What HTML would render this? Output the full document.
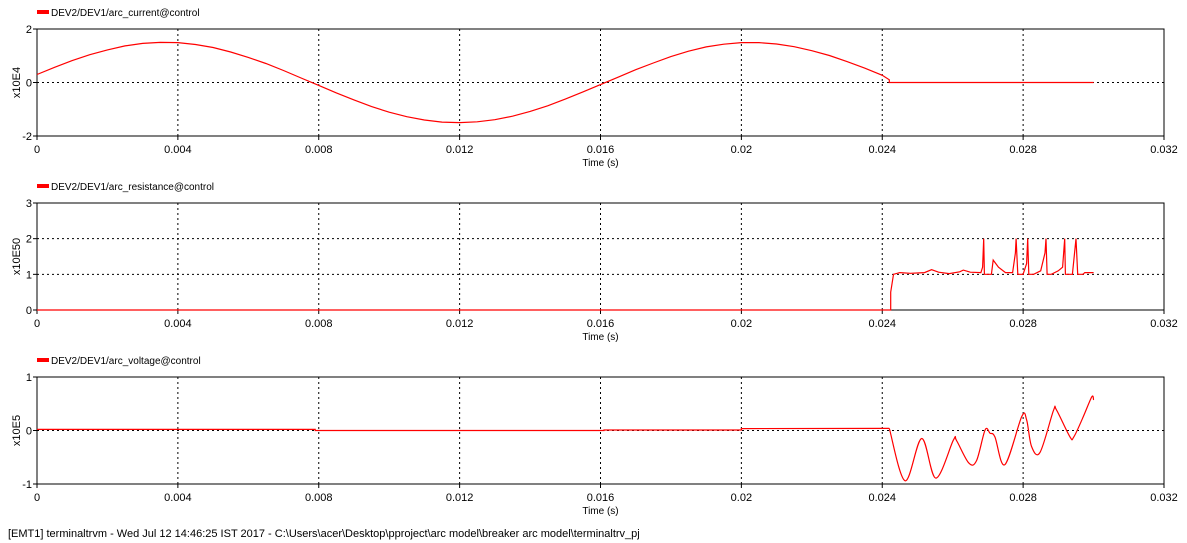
<!DOCTYPE html>
<html><head><meta charset="utf-8"><style>
html,body{margin:0;padding:0;background:#fff}
svg{display:block;font-family:"Liberation Sans",sans-serif;font-size:11px}
</style></head><body>
<svg id="s" width="1187" height="543" viewBox="0 0 1187 543" xmlns="http://www.w3.org/2000/svg">
<text x="8" y="537">[EMT1] terminaltrvm - Wed Jul 12 14:46:25 IST 2017 - C:\Users\acer\Desktop\pproject\arc model\breaker arc model\terminaltrv_pj</text>
</svg>
<script>
const xTicks=[0,0.004,0.008,0.012,0.016,0.02,0.024,0.028,0.032];
const xTickLabels=["0","0.004","0.008","0.012","0.016","0.02","0.024","0.028","0.032"];
const curT=[0,0.0005,0.001,0.0015,0.002,0.0025,0.003,0.0035,0.004,0.0045,0.005,0.0055,0.006,0.0065,0.007,0.0075,0.008,0.0085,0.009,0.0095,0.010,0.0105,0.011,0.0115,0.012,0.0125,0.013,0.0135,0.014,0.0145,0.015,0.0155,0.016,0.0165,0.017,0.0175,0.018,0.0185,0.019,0.0195,0.020,0.0205,0.021,0.0215,0.022,0.0225,0.023,0.0235,0.024,0.0242,0.0242,0.030];
const curV=[0.30,0.57,0.82,1.04,1.22,1.37,1.46,1.50,1.49,1.42,1.31,1.14,0.94,0.71,0.45,0.17,-0.11,-0.39,-0.65,-0.90,-1.11,-1.28,-1.40,-1.48,-1.50,-1.47,-1.39,-1.26,-1.08,-0.87,-0.62,-0.35,-0.08,0.20,0.48,0.73,0.97,1.17,1.33,1.43,1.49,1.49,1.44,1.34,1.19,1.01,0.78,0.54,0.27,0.10,0,0];
const resT=[0,0.02424,0.02424,0.02432,0.0245,0.0248,0.0252,0.0254,0.0256,0.0259,0.0262,0.0263,0.0265,0.0268,0.02685,0.02688,0.0269,0.0271,0.02715,0.0273,0.0275,0.0277,0.02778,0.0278,0.02785,0.0280,0.0281,0.02813,0.02816,0.0283,0.0285,0.02862,0.02865,0.02868,0.0288,0.0290,0.02912,0.02918,0.0292,0.0294,0.02945,0.0295,0.02955,0.0297,0.02975,0.0300];
const resV=[0,0,0.5,1.0,1.05,1.03,1.05,1.13,1.06,1.02,1.07,1.12,1.06,1.05,1.2,2,1.0,1.0,1.4,1.2,1.05,1.05,1.6,2,1.0,1.0,1.3,2,1.0,1.0,1.1,1.6,2,1.0,1.0,1.1,1.2,2,1.0,1.0,1.5,2,1.0,1.0,1.05,1.05];
const volT=[0,0.0079,0.0079,0.0161,0.0161,0.0200,0.0200,0.02420,0.02465,0.02512,0.02552,0.02602,0.02611,0.02646,0.02668,0.02692,0.02706,0.0272,0.02748,0.02796,0.0281,0.02824,0.02848,0.02886,0.02895,0.02933,0.02944,0.02971,0.02995,0.0300];
const volV=[0.02,0.02,0.0,0.0,0.01,0.01,0.035,0.04,-0.94,-0.15,-0.89,-0.18,-0.19,-0.61,-0.56,0.01,-0.05,-0.12,-0.64,0.26,0.20,-0.30,-0.41,0.37,0.38,-0.12,-0.12,0.26,0.63,0.57];

const NS="http://www.w3.org/2000/svg";
const svg=document.getElementById('s');
function mk(tag,attrs,parent){const e=document.createElementNS(NS,tag);for(const k in attrs)e.setAttribute(k,attrs[k]);(parent||svg).appendChild(e);return e;}
const X0=37,X1=1164;
const xs=t=>X0+(t/0.032)*(X1-X0);

function smoothPath(P){
 let d='M'+P[0][0].toFixed(1)+','+P[0][1].toFixed(1);
 for(let i=0;i<P.length-1;i++){
  const p0=P[i-1]||P[i],p1=P[i],p2=P[i+1],p3=P[i+2]||P[i+1];
  const c1=[p1[0]+(p2[0]-p0[0])/6,p1[1]+(p2[1]-p0[1])/6];
  const c2=[p2[0]-(p3[0]-p1[0])/6,p2[1]-(p3[1]-p1[1])/6];
  d+=` C${c1[0].toFixed(1)},${c1[1].toFixed(1)} ${c2[0].toFixed(1)},${c2[1].toFixed(1)} ${p2[0].toFixed(1)},${p2[1].toFixed(1)}`;
 }
 return d;
}

const panels=[
 {top:29,bot:136,min:-2,max:2,yt:[-2,0,2],grid:[0],lab:"x10E4",leg:"DEV2/DEV1/arc_current@control",T:curT,V:curV,key:"current",smoothFrom:-1},
 {top:203,bot:310,min:0,max:3,yt:[0,1,2,3],grid:[1,2],lab:"x10E50",leg:"DEV2/DEV1/arc_resistance@control",T:resT,V:resV,key:"resistance",smoothFrom:-1},
 {top:377,bot:484,min:-1,max:1,yt:[-1,0,1],grid:[0],lab:"x10E5",leg:"DEV2/DEV1/arc_voltage@control",T:volT,V:volV,key:"voltage",smoothFrom:7}
];
panels.forEach(p=>{
 const g=mk('g',{});
 
 
 const ys=v=>p.bot-(v-p.min)/(p.max-p.min)*(p.bot-p.top);
 xTicks.slice(1,-1).forEach(t=>{const l=mk('line',{x1:xs(t),x2:xs(t),y1:p.top,y2:p.bot,stroke:'#000','stroke-dasharray':'2,3'},g);
  });
 p.grid.forEach(v=>{const l=mk('line',{x1:X0,x2:X1,y1:ys(v),y2:ys(v),stroke:'#000','stroke-dasharray':'2,3'},g);
  });
 const r=mk('rect',{x:X0,y:p.top,width:X1-X0,height:p.bot-p.top,fill:'none',stroke:'#000','stroke-width':1},g);
 
 xTicks.forEach((t,i)=>{mk('line',{x1:xs(t),x2:xs(t),y1:p.bot,y2:p.bot+4,stroke:'#000'},g);
  const tx=mk('text',{x:xs(t),y:p.bot+17,'text-anchor':i==0?'start':'middle'},g);
  if(i==0)tx.setAttribute('x',xs(t)-3);
  tx.textContent=xTickLabels[i];
  });
 p.yt.forEach(v=>{mk('line',{x1:X0-4,x2:X0,y1:ys(v),y2:ys(v),stroke:'#000'},g);
  const tx=mk('text',{x:X0-5,y:ys(v)+4,'text-anchor':'end'},g);tx.textContent=String(v);
  });
 const yl=mk('text',{x:0,y:0,'text-anchor':'middle',transform:`translate(20,${(p.top+p.bot)/2}) rotate(-90)`},g);
 yl.textContent=p.lab;
 const xl=mk('text',{x:(X0+X1)/2,y:p.bot+30,'text-anchor':'middle',"font-size":"10"},g);
 xl.textContent="Time (s)";
 const lg=mk('g',{},g);
 mk('rect',{x:37,y:p.top-19,width:12,height:4,fill:'#f00'},lg);
 const lt=mk('text',{x:51,y:p.top-13,"font-size":"10"},lg);lt.textContent=p.leg;
 const P=p.T.map((t,i)=>[xs(t),ys(p.V[i])]);
 if(p.smoothFrom<0){
  const pl=mk('polyline',{points:P.map(q=>q[0].toFixed(1)+','+q[1].toFixed(1)).join(' '),fill:'none',stroke:'#f00','stroke-width':1.2},g);
  
 } else {
  const a=P.slice(0,p.smoothFrom+1), b=P.slice(p.smoothFrom);
  const pl=mk('polyline',{points:a.map(q=>q[0].toFixed(1)+','+q[1].toFixed(1)).join(' '),fill:'none',stroke:'#f00','stroke-width':1.2},g);
  
  const ph=mk('path',{d:smoothPath(b),fill:'none',stroke:'#f00','stroke-width':1.2},g);
  
 }
});
</script>
</body></html>
